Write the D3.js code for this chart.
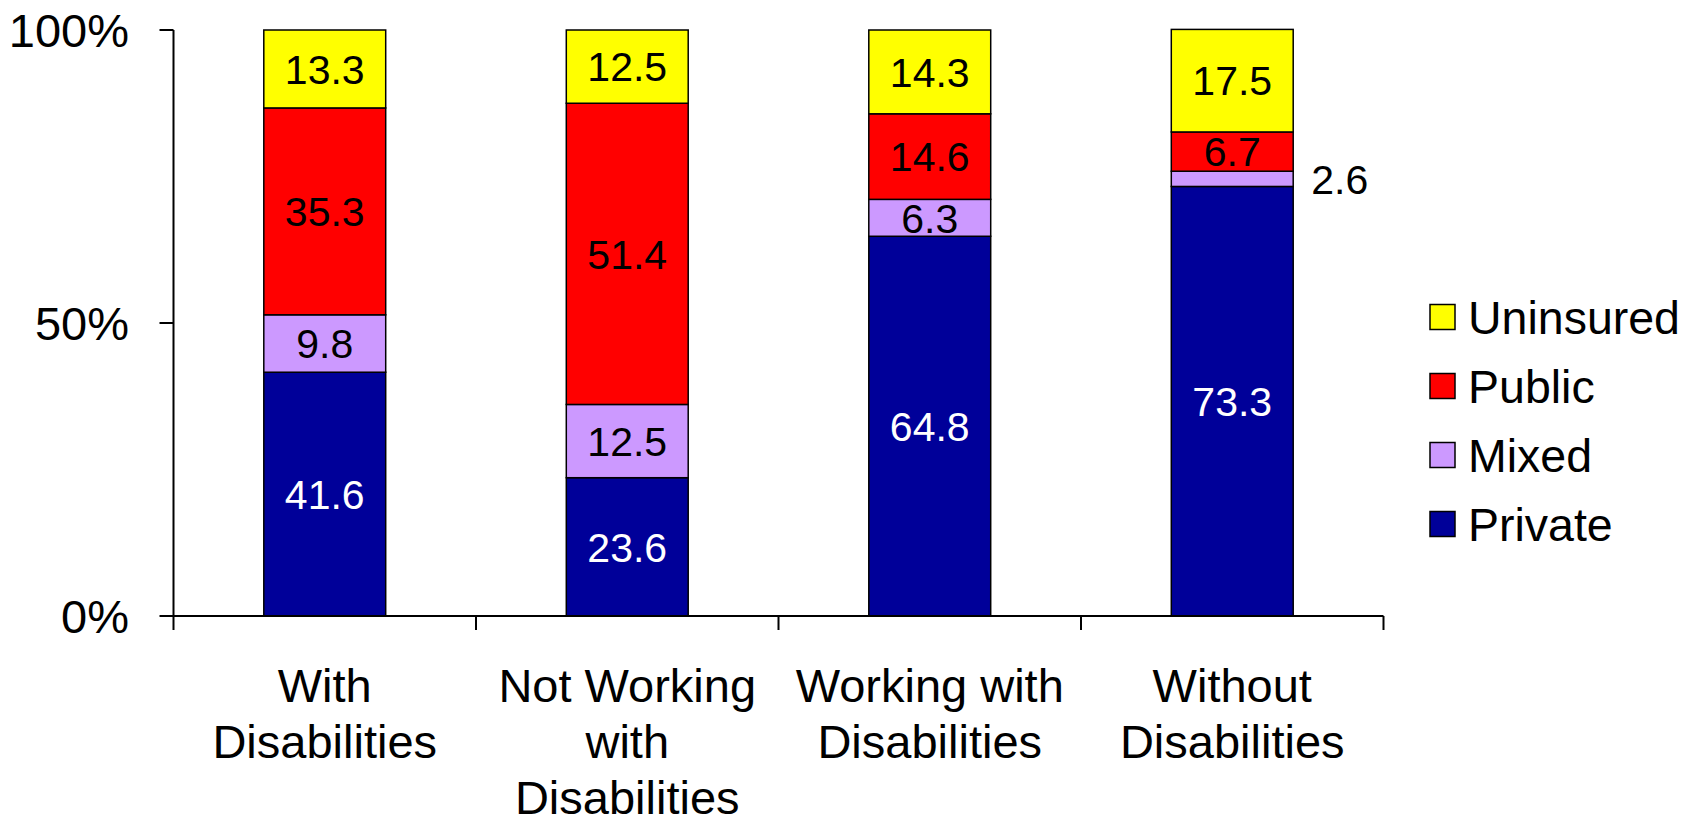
<!DOCTYPE html>
<html>
<head>
<meta charset="utf-8">
<script src="https://cdn.jsdelivr.net/npm/d3@7"></script>
<style>
  html, body { margin: 0; padding: 0; background: #fff; }
  svg { display: block; font-family: "Liberation Sans", Arial, sans-serif; }
</style>
</head>
<body>
<svg id="chart" width="1700" height="816"></svg>
<script>
// Health insurance coverage by disability and work status (percent)
const categories = [
  ["With", "Disabilities"],
  ["Not Working", "with", "Disabilities"],
  ["Working with", "Disabilities"],
  ["Without", "Disabilities"]
];
const seriesNames = ["Private", "Mixed", "Public", "Uninsured"];
const privateVals   = [41.6, 23.6, 64.8, 73.3];
const mixedVals     = [9.8, 12.5, 6.3, 2.6];
const publicVals    = [35.3, 51.4, 14.6, 6.7];
const uninsuredVals = [13.3, 12.5, 14.3, 17.5];
const yTicks = [0, 50, 100];
const yTickLabels = ["0%", "50%", "100%"];

const seriesVals = [privateVals, mixedVals, publicVals, uninsuredVals];
const colors = ["#000099", "#CC99FF", "#FF0000", "#FFFF00"];
const labelColors = ["#ffffff", "#000000", "#000000", "#000000"];

const svg = d3.select("#chart");
const plotLeft = 173.5, plotRight = 1383.5, plotTop = 30, plotBottom = 616;

const x = d3.scaleBand().domain(d3.range(categories.length)).range([plotLeft, plotRight]).paddingInner(0).paddingOuter(0);
const barW = x.bandwidth() * 0.403;
const y = d3.scaleLinear().domain([0, 100]).range([plotBottom, plotTop]);

// stacked data
const rows = categories.map((c, i) => {
  const r = { idx: i };
  seriesNames.forEach((s, k) => r[s] = seriesVals[k][i]);
  return r;
});
const stack = d3.stack().keys(seriesNames)(rows);

const g = svg.append("g");
stack.forEach((layer, k) => {
  g.selectAll(null).data(layer).enter().append("rect")
    .attr("x", d => x(d.data.idx) + (x.bandwidth() - barW) / 2)
    .attr("y", d => y(d[1]))
    .attr("width", barW)
    .attr("height", d => y(d[0]) - y(d[1]))
    .attr("fill", colors[k])
    .attr("stroke", "#000")
    .attr("stroke-width", 1.5);
});

// value labels; thin segments get their label beside the bar
stack.forEach((layer, k) => {
  layer.forEach(d => {
    const v = d.data[seriesNames[k]];
    const cx = x(d.data.idx) + x.bandwidth() / 2;
    const h = y(d[0]) - y(d[1]);
    const small = h < 30;
    g.append("text")
      .attr("x", small ? cx + barW / 2 + 18 : cx)
      .attr("y", (y(d[0]) + y(d[1])) / 2)
      .attr("dy", "0.36em")
      .attr("text-anchor", small ? "start" : "middle")
      .attr("font-size", 41)
      .attr("fill", small ? "#000" : labelColors[k])
      .text(v.toFixed(1));
  });
});

// axes
const yAxis = svg.append("g");
yAxis.append("line").attr("x1", plotLeft).attr("x2", plotLeft).attr("y1", plotTop).attr("y2", plotBottom)
  .attr("stroke", "#000").attr("stroke-width", 2);
yTicks.forEach((t, i) => {
  yAxis.append("line").attr("x1", plotLeft - 14).attr("x2", plotLeft).attr("y1", y(t)).attr("y2", y(t))
    .attr("stroke", "#000").attr("stroke-width", 2);
  yAxis.append("text").attr("x", 129).attr("y", y(t)).attr("dy", "0.36em")
    .attr("text-anchor", "end").attr("font-size", 47).text(yTickLabels[i]);
});

const xAxis = svg.append("g");
xAxis.append("line").attr("x1", plotLeft).attr("x2", plotRight).attr("y1", plotBottom).attr("y2", plotBottom)
  .attr("stroke", "#000").attr("stroke-width", 2);
d3.range(categories.length + 1).forEach(i => {
  const xx = plotLeft + i * x.bandwidth();
  xAxis.append("line").attr("x1", xx).attr("x2", xx).attr("y1", plotBottom).attr("y2", plotBottom + 14)
    .attr("stroke", "#000").attr("stroke-width", 2);
});
categories.forEach((lines, i) => {
  const t = xAxis.append("text").attr("text-anchor", "middle").attr("font-size", 47);
  lines.forEach((ln, j) => {
    t.append("tspan").attr("x", x(i) + x.bandwidth() / 2).attr("y", 702 + j * 56).text(ln);
  });
});

// legend
const legendOrder = ["Uninsured", "Public", "Mixed", "Private"];
const legend = svg.append("g");
legendOrder.forEach((name, i) => {
  const k = seriesNames.indexOf(name);
  const cy = 317 + i * 69;
  legend.append("rect").attr("x", 1430).attr("y", cy - 12.5).attr("width", 25).attr("height", 25)
    .attr("fill", colors[k]).attr("stroke", "#000").attr("stroke-width", 1.5);
  legend.append("text").attr("x", 1468).attr("y", cy).attr("dy", "0.36em")
    .attr("font-size", 46.5).text(name);
});
</script>
</body>
</html>
